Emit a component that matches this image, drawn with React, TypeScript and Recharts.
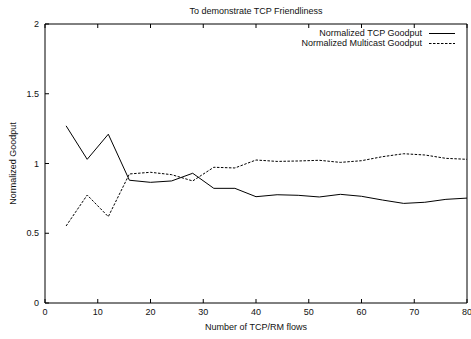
import React from "react";
import { LineChart, Line, XAxis, YAxis, Legend } from "recharts";

const flows = [4, 8, 12, 16, 20, 24, 28, 32, 36, 40, 44, 48, 52, 56, 60, 64, 68, 72, 76, 80];
const tcpGoodput = [1.27, 1.03, 1.21, 0.88, 0.865, 0.875, 0.93, 0.822, 0.822, 0.762, 0.776, 0.772, 0.76, 0.779, 0.765, 0.738, 0.714, 0.722, 0.743, 0.752];
const multicastGoodput = [0.552, 0.774, 0.619, 0.925, 0.937, 0.92, 0.875, 0.973, 0.968, 1.025, 1.015, 1.018, 1.023, 1.008, 1.02, 1.049, 1.07, 1.061, 1.037, 1.03];
const xTicks = [0, 10, 20, 30, 40, 50, 60, 70, 80];
const yTicks = [0, 0.5, 1, 1.5, 2];
const seriesNames = ["Normalized TCP Goodput", "Normalized Multicast Goodput"];
const title = "To demonstrate TCP Friendliness";
const xTitle = "Number of TCP/RM flows";
const yTitle = "Normalized Goodput";

const data = flows.map((f, i) => ({ flows: f, tcp: tcpGoodput[i], mcast: multicastGoodput[i] }));

const FONT = "'Liberation Sans', Arial, Helvetica, sans-serif";
const DASH = "2.5 1.5";

const renderLegend = () => (
  <div style={{ fontFamily: FONT, fontSize: 9, color: "#111" }}>
    {[
      { name: seriesNames[0], dash: undefined as string | undefined },
      { name: seriesNames[1], dash: DASH },
    ].map((it) => (
      <div key={it.name} style={{ display: "flex", justifyContent: "flex-end", alignItems: "center", height: 10, lineHeight: "10px" }}>
        <span style={{ whiteSpace: "nowrap" }}>{it.name}</span>
        <svg width={33} height={10} style={{ display: "block" }}>
          <line x1={7} y1={5.5} x2={33} y2={5.5} stroke="#000" strokeWidth={1} strokeDasharray={it.dash} />
        </svg>
      </div>
    ))}
  </div>
);

export default function App() {
  const tickStyle = { fontSize: 9, fill: "#111", fontFamily: FONT };
  return (
    <div style={{ position: "absolute", left: 0, top: 0, width: 471, height: 339, background: "#fff", fontFamily: FONT }}>
      <LineChart width={471} height={339} data={data} margin={{ top: 23, right: 3, bottom: 0, left: 0 }} style={{ fontFamily: FONT }}>
        <XAxis
          xAxisId="bottom"
          dataKey="flows"
          type="number"
          domain={[0, 80]}
          ticks={xTicks}
          height={36}
          tickSize={-4}
          tickMargin={10}
          stroke="#000"
          tick={tickStyle}
          interval={0}
          label={{ value: xTitle, position: "center", dy: 6, style: { fontSize: 9, fill: "#111", fontFamily: FONT } }}
        />
        <XAxis
          xAxisId="top"
          orientation="top"
          dataKey="flows"
          type="number"
          domain={[0, 80]}
          ticks={xTicks}
          height={1}
          tickSize={-4}
          stroke="#000"
          tickFormatter={() => ""}
          interval={0}
          label={{ value: title, position: "center", dy: -13, style: { fontSize: 9, fill: "#111", fontFamily: FONT } }}
        />
        <YAxis
          yAxisId="left"
          domain={[0, 2]}
          ticks={yTicks}
          width={45}
          tickSize={-4}
          tickMargin={10}
          stroke="#000"
          tick={tickStyle}
          interval={0}
          label={{ value: yTitle, angle: -90, position: "center", dx: -9.5, style: { fontSize: 9, fill: "#111", fontFamily: FONT, textAnchor: "middle" } }}
        />
        <YAxis
          yAxisId="right"
          orientation="right"
          domain={[0, 2]}
          ticks={yTicks}
          width={1}
          tickSize={-4}
          stroke="#000"
          tickFormatter={() => ""}
          interval={0}
        />
        <Legend
          layout="horizontal"
          verticalAlign="middle"
          align="center"
          content={renderLegend}
          wrapperStyle={{ top: 28, left: 255, width: 200, height: 20 }}
        />
        <Line
          xAxisId="bottom"
          yAxisId="left"
          type="linear"
          dataKey="tcp"
          name={seriesNames[0]}
          stroke="#000"
          strokeWidth={1}
          dot={false}
          isAnimationActive={false}
        />
        <Line
          xAxisId="bottom"
          yAxisId="left"
          type="linear"
          dataKey="mcast"
          name={seriesNames[1]}
          stroke="#000"
          strokeWidth={1}
          strokeDasharray={DASH}
          dot={false}
          isAnimationActive={false}
        />
      </LineChart>
    </div>
  );
}
